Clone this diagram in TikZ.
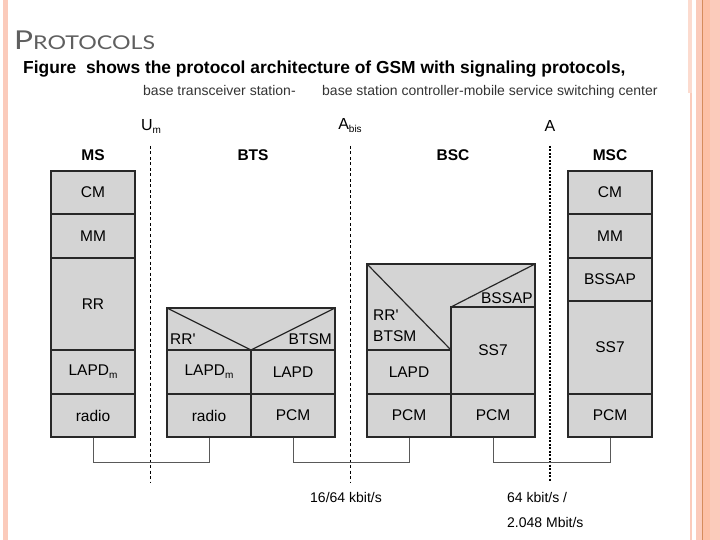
\documentclass[tikz,border=0pt]{standalone}
\usepackage{fontspec}
\setmainfont{Liberation Sans}
\newfontfamily\titlefont[FakeStretch=1.22]{Lato}
\usetikzlibrary{positioning}

\definecolor{layerfill}{RGB}{212, 212, 212}
\definecolor{layerline}{RGB}{40, 40, 40}
\definecolor{slidepink}{RGB}{251, 203, 187}
\definecolor{slidepeach}{RGB}{253, 192, 166}
\definecolor{slideorange}{RGB}{214, 140, 92}
\definecolor{titlegray}{RGB}{95, 95, 95}

\newcommand{\lsub}[1]{\raisebox{-3pt}{\fontsize{10}{10}\selectfont #1}}

\tikzset{
	layer/.style={draw=layerline, fill=layerfill, line width=1.2pt, minimum width=84pt, inner sep=0pt, font=\fontsize{15.5}{18}\selectfont},
	layershape/.style={draw=layerline, fill=layerfill, line width=1.2pt},
	entity/.style={inner sep=0pt, font=\bfseries\fontsize{15.5}{18}\selectfont},
	ifname/.style={inner sep=0pt, font=\fontsize{16}{18}\selectfont},
	iface/.style={dash pattern=on 3pt off 2.5pt, line width=0.7pt},
	link/.style={draw=black!65, line width=0.9pt},
	rate/.style={anchor=west, inner sep=0pt, font=\fontsize{14}{17}\selectfont},
	tag/.style={inner sep=0pt, font=\fontsize{15.5}{18}\selectfont}
}

\begin{document}
\begin{tikzpicture}[x=1pt, y=-1pt]
			\useasboundingbox (0, 0) rectangle (720, 540);
			% slide frame
			\fill[slidepink] (3, 0) rectangle (8, 540);
			\fill[slidepink] (696, 0) rectangle (720, 540);
			\fill[slidepeach] (703, 0) rectangle (710, 540);
			\fill[slideorange] (702, 0) rectangle (703.2, 540);
			\fill[slidepink] (690, 93) rectangle (692, 540);
			\fill[slidepink!70] (688, 0) rectangle (692, 93);

			% heading
			\node[anchor=base west, inner sep=0pt, text=titlegray] (title) at (14, 50) {\titlefont\fontsize{26}{26}\selectfont P\fontsize{19}{19}\selectfont ROTOCOLS};
			\node[anchor=base west, inner sep=0pt] (intro) at (23, 74) {\bfseries\fontsize{17.4}{19}\selectfont Figure\ \ shows the protocol architecture of GSM with signaling protocols,};
			\node[anchor=base west, inner sep=0pt, text=black!80] (btsname) at (143, 96) {\fontsize{14}{16}\selectfont base transceiver station-};
			\node[anchor=base west, inner sep=0pt, text=black!80] (bscname) at (322, 96) {\fontsize{14}{16}\selectfont base station controller-mobile service switching center};

			% interfaces
			\node[ifname] (um) at (151, 126) {U\lsub{m}};
			\node[ifname] (abis) at (350, 126) {A\lsub{bis}};
			\node[ifname] (a) at (550, 126) {A};
			\coordinate (umtop) at (150, 146);
			\coordinate (umend) at (150, 482);
			\coordinate (abistop) at (350, 146);
			\coordinate (abisend) at (350, 482);
			\coordinate (atop) at (550, 146);
			\coordinate (aend) at (550, 482);
			\draw[iface] (umtop) -- (umend);
			\draw[iface] (abistop) -- (abisend);
			\draw[iface, line width=1.2pt, dash pattern=on 2pt off 1.5pt] (atop) -- (aend);

			% entities
			\node[entity] (ms) at (93, 155) {MS};
			\node[entity] (bts) at (253, 155) {BTS};
			\node[entity] (bsc) at (453, 155) {BSC};
			\node[entity] (msc) at (610, 155) {MSC};

			% MS stack
			\node[layer, minimum height=43pt] (mscm) at (93, 192.5) {CM};
			\node[layer, minimum height=44pt] (msmm) at (93, 236) {MM};
			\node[layer, minimum height=92pt] (msrr) at (93, 304) {RR};
			\node[layer, minimum height=44pt] (mslapd) at (93, 372) {LAPD\lsub{m}};
			\node[layer, minimum height=43pt] (msradio) at (93, 415.5) {radio};

			% BTS stack
			\filldraw[layershape] (167, 308) rectangle (335, 350);
			\draw[layerline, line width=1.2pt] (167, 308) -- (251, 350) -- (335, 308);
			\node[tag, anchor=base west] (btsrr) at (170, 344.5) {RR\textquotesingle};
			\node[tag, anchor=base east] (btsbtsm) at (332, 344.5) {BTSM};
			\node[layer, minimum height=44pt] (btslapdm) at (209, 372) {LAPD\lsub{m}};
			\node[layer, minimum height=44pt] (btslapd) at (293, 372) {LAPD};
			\node[layer, minimum height=43pt] (btsradio) at (209, 415.5) {radio};
			\node[layer, minimum height=43pt] (btspcm) at (293, 415.5) {PCM};

			% BSC stack
			\filldraw[layershape] (367, 264) -- (535, 264) -- (535, 307) -- (451, 307) -- (451, 350) -- (367, 350) -- cycle;
			\draw[layerline, line width=1.2pt] (367, 264) -- (451, 350);
			\draw[layerline, line width=1.2pt] (451, 307) -- (535, 264);
			\node[tag, anchor=base west] (bscrr) at (373, 320) {RR\textquotesingle};
			\node[tag, anchor=base west] (bscbtsm) at (373, 341) {BTSM};
			\node[tag, anchor=base east] (bscbssap) at (533, 303) {BSSAP};
			\node[layer, minimum height=44pt] (bsclapd) at (409, 372) {LAPD};
			\node[layer, minimum height=87pt] (bscss) at (493, 350.5) {SS7};
			\node[layer, minimum height=43pt] (bscpcma) at (409, 415.5) {PCM};
			\node[layer, minimum height=43pt] (bscpcmb) at (493, 415.5) {PCM};

			% MSC stack
			\node[layer, minimum height=43pt] (msccm) at (610, 192.5) {CM};
			\node[layer, minimum height=44pt] (mscmm) at (610, 236) {MM};
			\node[layer, minimum height=43pt] (mscbssap) at (610, 279.5) {BSSAP};
			\node[layer, minimum height=93pt] (mscss) at (610, 347.5) {SS7};
			\node[layer, minimum height=43pt] (mscpcm) at (610, 415.5) {PCM};

			% physical links
			\draw[link] (msradio.south) -- ++(0, 25) -| (btsradio.south);
			\draw[link] (btspcm.south) -- ++(0, 25) -| (bscpcma.south);
			\draw[link] (bscpcmb.south) -- ++(0, 25) -| (mscpcm.south);

			% rates
			\node[rate] (abisrate) at (310, 497) {16/64 kbit/s};
			\node[rate] (arate) at (507, 497) {64 kbit/s /};
			\node[rate] (arateb) at (507, 522) {2.048 Mbit/s};
		\end{tikzpicture}
\end{document}
